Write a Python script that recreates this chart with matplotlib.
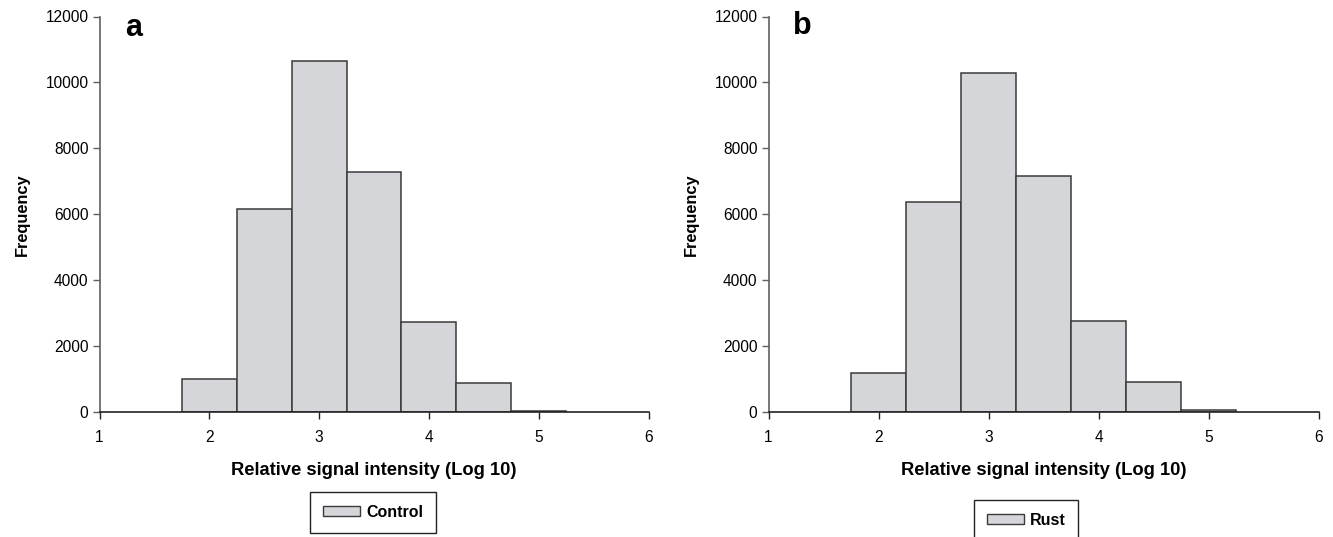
import matplotlib
matplotlib.use("Agg")
import matplotlib.pyplot as plt
from matplotlib.patches import Patch

plt.rcParams['font.family'] = ['Liberation Sans', 'DejaVu Sans']

# Data
bin_edges = [1.75, 2.25, 2.75, 3.25, 3.75, 4.25, 4.75, 5.25]
control_counts = [1000, 6160, 10650, 7290, 2720, 870, 30]
rust_counts = [1190, 6380, 10300, 7150, 2750, 900, 50]
x_ticks = [1, 2, 3, 4, 5, 6]
y_ticks = [0, 2000, 4000, 6000, 8000, 10000, 12000]
panel_labels = ["a", "b"]
legend_labels = ["Control", "Rust"]
xlabel = "Relative signal intensity (Log 10)"
ylabel = "Frequency"

W, H = 1333, 537
fig = plt.figure(figsize=(W / 100, H / 100), dpi=100)

fill = "#d5d6d9"
edge = "#3a3a3a"

axes_px = [(99.5, 648.5), (768.5, 1319)]
y_px = (412, 16.5)
legend_px = [(310, 492), (974, 500)]
label_px = [(125, 13), (793, 11)]

for i, counts in enumerate([control_counts, rust_counts]):
    x0, x1 = axes_px[i]
    ax = fig.add_axes([x0 / W, 1 - y_px[0] / H, (x1 - x0) / W, (y_px[0] - y_px[1]) / H])
    lefts = bin_edges[:-1]
    widths = [b - a for a, b in zip(bin_edges[:-1], bin_edges[1:])]
    ax.bar(lefts, counts, width=widths, align="edge", color=fill,
           edgecolor=edge, linewidth=1.1, zorder=2)
    ax.set_xlim(1, 6)
    ax.set_ylim(0, 12000)
    ax.set_xticks(x_ticks)
    ax.set_yticks(y_ticks)
    for s in ["top", "right"]:
        ax.spines[s].set_visible(False)
    ax.spines["left"].set_color("#606060")
    ax.spines["left"].set_linewidth(1.2)
    ax.spines["bottom"].set_color("#222222")
    ax.spines["bottom"].set_linewidth(1.2)
    ax.tick_params(axis="y", direction="out", length=5, width=1, color="#606060",
                   labelsize=11.2, pad=3)
    ax.tick_params(axis="x", direction="out", length=5, width=1, color="#222222",
                   labelsize=11.2, pad=8)
    ax.set_xlabel(xlabel, fontsize=13.2, fontweight="bold", labelpad=12)
    ax.set_ylabel(ylabel, fontsize=11.8, fontweight="bold", labelpad=11)
    lx, ly = label_px[i]
    fig.text(lx / W, 1 - ly / H, panel_labels[i], fontsize=22, fontweight="bold",
             ha="left", va="top")
    handle = Patch(facecolor=fill, edgecolor=edge, linewidth=1.0)
    gx, gy = legend_px[i]
    leg = fig.legend([handle], [legend_labels[i]], loc="upper left",
                     bbox_to_anchor=(gx / W, 1 - gy / H), borderaxespad=0,
                     prop={"size": 11.5, "weight": "bold"}, frameon=True,
                     fancybox=False, edgecolor="#222222", framealpha=1,
                     handlelength=2.3, handleheight=0.63, handletextpad=0.4,
                     borderpad=0.8)
    leg.get_frame().set_linewidth(1.0)

fig.savefig("out.png", dpi=100)
